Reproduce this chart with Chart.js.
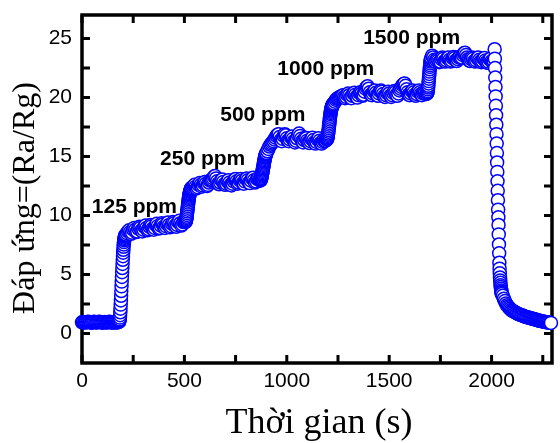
<!DOCTYPE html>
<html>
<head>
<meta charset="utf-8">
<script src="https://cdn.jsdelivr.net/npm/chart.js@4"></script>
<style>
  html, body { margin: 0; padding: 0; background: #fff; }
  canvas { display: block; }
</style>
</head>
<body>
<canvas id="responseChart" width="560" height="443"></canvas>
<script>
// Ra/Rg response vs time, one array per stage of the run

// 0–180 s in air, every 5 s
const baseline = [
  0.95, 0.98, 0.96, 0.93, 0.95, 0.97, 1.00, 0.98, 0.95, 0.92,
  0.94, 0.97, 0.99, 0.96, 0.93, 0.95, 0.98, 1.00, 0.97, 0.94,
  0.92, 0.95, 0.98, 0.96, 0.93, 0.95, 0.97, 0.99, 0.96, 0.94,
  0.93, 0.95, 0.97, 0.95, 0.93, 0.96, 0.98
];
// 181–212 s, every 1 s
const rise125 = [
  1.00, 1.05, 1.10, 1.20, 1.35, 1.55, 1.80, 2.10, 2.45, 2.80,
  3.20, 3.60, 4.00, 4.40, 4.80, 5.20, 5.55, 5.90, 6.25, 6.55,
  6.85, 7.10, 7.35, 7.55, 7.75, 7.90, 8.00, 8.10, 8.20, 8.25,
  8.30, 8.35
];
// 215–505 s, every 5 s
const plateau125 = [
  8.40, 8.50, 8.65, 8.75, 8.60, 8.45, 8.55, 8.80, 8.95, 8.80,
  8.60, 8.65, 8.90, 9.05, 8.95, 8.75, 8.65, 8.80, 9.05, 9.15,
  8.95, 8.75, 8.85, 9.05, 9.20, 9.10, 8.90, 8.80, 8.95, 9.20,
  9.30, 9.10, 8.90, 8.95, 9.15, 9.35, 9.25, 9.05, 8.95, 9.10,
  9.30, 9.40, 9.20, 9.00, 9.10, 9.30, 9.45, 9.35, 9.15, 9.05,
  9.20, 9.45, 9.55, 9.35, 9.15, 9.25, 9.45, 9.50, 9.45
];
// 506–535 s, every 1 s
const rise250 = [
  9.50, 9.55, 9.60, 9.70, 9.80, 9.90, 10.05, 10.20, 10.35, 10.50,
  10.65, 10.80, 10.95, 11.10, 11.25, 11.40, 11.50, 11.60, 11.70, 11.80,
  11.90, 12.00, 12.05, 12.10, 12.15, 12.20, 12.25, 12.30, 12.30, 12.35
];
// 540–870 s, every 5 s
const plateau250 = [
  12.40, 12.50, 12.60, 12.45, 12.30, 12.40, 12.60, 12.75, 12.60, 12.45,
  12.55, 12.75, 12.85, 12.70, 12.50, 12.60, 12.80, 12.95, 13.00, 13.05,
  13.15, 13.30, 13.35, 13.15, 12.90, 12.70, 12.65, 12.80, 13.00, 13.05,
  12.85, 12.65, 12.60, 12.70, 12.90, 13.00, 12.80, 12.60, 12.55, 12.70,
  12.90, 13.05, 13.10, 12.90, 12.70, 12.80, 13.00, 13.10, 12.95, 12.75,
  12.70, 12.90, 13.10, 13.15, 13.00, 12.80, 12.75, 12.95, 13.15, 13.20,
  13.00, 12.80, 12.90, 13.10, 13.15, 13.05, 12.95
];
// 871–900 s, every 1 s
const rise500 = [
  13.00, 13.00, 13.05, 13.10, 13.15, 13.20, 13.30, 13.40, 13.50, 13.60,
  13.70, 13.80, 13.90, 14.00, 14.10, 14.20, 14.30, 14.40, 14.50, 14.60,
  14.70, 14.80, 14.90, 14.95, 15.00, 15.10, 15.15, 15.20, 15.25, 15.30
];
// 905–1195 s, every 5 s
const plateau500 = [
  15.45, 15.65, 15.85, 16.00, 16.10, 16.20, 16.30, 16.45, 16.60, 16.75,
  16.85, 16.90, 16.65, 16.40, 16.30, 16.50, 16.75, 16.90, 16.80, 16.55,
  16.35, 16.30, 16.45, 16.65, 16.70, 16.50, 16.30, 16.20, 16.35, 16.55,
  16.80, 16.95, 16.75, 16.50, 16.30, 16.20, 16.40, 16.60, 16.55, 16.35,
  16.20, 16.15, 16.30, 16.50, 16.60, 16.40, 16.20, 16.10, 16.25, 16.45,
  16.55, 16.35, 16.15, 16.10, 16.25, 16.40, 16.30, 16.35, 16.45
];
// 1196–1225 s, every 1 s
const rise1000 = [
  16.45, 16.50, 16.55, 16.65, 16.75, 16.85, 16.95, 17.10, 17.25, 17.40,
  17.55, 17.70, 17.85, 18.00, 18.15, 18.30, 18.45, 18.60, 18.70, 18.80,
  18.90, 19.00, 19.10, 19.15, 19.20, 19.25, 19.30, 19.35, 19.40, 19.45
];
// 1230–1685 s, every 5 s
const plateau1000 = [
  19.50, 19.65, 19.80, 19.90, 19.95, 20.00, 20.05, 20.10, 20.15, 20.20,
  20.05, 19.95, 20.05, 20.25, 20.35, 20.20, 20.00, 19.95, 20.15, 20.35,
  20.40, 20.25, 20.05, 20.00, 20.20, 20.40, 20.45, 20.35, 20.15, 20.25,
  20.50, 20.75, 20.90, 20.95, 20.75, 20.45, 20.25, 20.20, 20.35, 20.55,
  20.60, 20.40, 20.20, 20.15, 20.35, 20.55, 20.60, 20.50, 20.30, 20.10,
  20.05, 20.20, 20.40, 20.50, 20.35, 20.15, 20.05, 20.20, 20.40, 20.55,
  20.45, 20.25, 20.15, 20.35, 20.60, 20.75, 20.90, 21.05, 21.15, 21.20,
  21.00, 20.70, 20.45, 20.25, 20.20, 20.35, 20.55, 20.60, 20.45, 20.25,
  20.15, 20.30, 20.50, 20.60, 20.45, 20.30, 20.20, 20.35, 20.45, 20.40,
  20.30, 20.35
];
// 1686–1705 s, every 1 s
const rise1500 = [
  20.40, 20.45, 20.55, 20.70, 20.85, 21.00, 21.20, 21.40, 21.60, 21.80,
  22.00, 22.20, 22.40, 22.60, 22.75, 22.90, 23.05, 23.15, 23.25, 23.35
];
// 1710–2010 s, every 5 s
const plateau1500 = [
  23.55, 23.40, 23.20, 23.05, 23.15, 23.25, 23.15, 23.00, 23.05, 23.25,
  23.40, 23.30, 23.10, 23.05, 23.15, 23.35, 23.40, 23.20, 23.05, 23.15,
  23.35, 23.45, 23.35, 23.15, 23.10, 23.25, 23.40, 23.45, 23.35, 23.40,
  23.60, 23.75, 23.80, 23.60, 23.40, 23.25, 23.15, 23.10, 23.25, 23.40,
  23.30, 23.10, 23.05, 23.15, 23.35, 23.40, 23.20, 23.05, 23.00, 23.10,
  23.30, 23.35, 23.15, 23.00, 22.95, 23.05, 23.25, 23.30, 23.10, 23.00,
  23.10
];
// gas off: 2015–2050 s, every 1 s
const recovery = [
  24.10, 23.30, 22.50, 21.70, 20.90, 20.10, 19.30, 18.50, 17.70, 16.90,
  16.10, 15.30, 14.50, 13.70, 12.90, 12.10, 11.30, 10.50, 9.85, 9.20,
  8.40, 7.55, 6.80, 6.00, 5.50, 5.10, 4.75, 4.50, 4.30, 4.10,
  3.95, 3.80, 3.65, 3.55, 3.45, 3.35
];
// 2055–2290 s, every 5 s
const tail = [
  3.20, 2.95, 2.75, 2.55, 2.40, 2.30, 2.20, 2.10, 2.00, 1.95,
  1.90, 1.85, 1.80, 1.75, 1.70, 1.65, 1.62, 1.58, 1.55, 1.52,
  1.50, 1.45, 1.42, 1.40, 1.37, 1.35, 1.32, 1.30, 1.28, 1.25,
  1.22, 1.20, 1.18, 1.15, 1.13, 1.10, 1.08, 1.06, 1.04, 1.02,
  1.00, 0.98, 0.97, 0.95, 0.94, 0.92, 0.91, 0.90
];

// [first time (s), sampling interval (s), values]
const segments = [
  [0, 5, baseline], [181, 1, rise125], [215, 5, plateau125],
  [506, 1, rise250], [540, 5, plateau250], [871, 1, rise500],
  [905, 5, plateau500], [1196, 1, rise1000], [1230, 5, plateau1000],
  [1686, 1, rise1500], [1710, 5, plateau1500], [2015, 1, recovery],
  [2055, 5, tail]
];

const xTickLabels = [0, 500, 1000, 1500, 2000];
const xMinorTicks = [0, 250, 500, 750, 1000, 1250, 1500, 1750, 2000, 2250];
const yTickLabels = [0, 5, 10, 15, 20, 25];
const yMinorTicks = [0, 2.5, 5, 7.5, 10, 12.5, 15, 17.5, 20, 22.5, 25];

const stepLabels = ["125 ppm", "250 ppm", "500 ppm", "1000 ppm", "1500 ppm"];

const points = [];
segments.forEach(([start, dt, vals]) => {
  vals.forEach((v, i) => points.push({ x: start + i * dt, y: v }));
});

// where each concentration label sits (left edge, baseline), in data units
const labelAt = [[48, 10.2], [381, 14.3], [675, 18.0], [954, 21.95], [1373, 24.5]];

const sans = '"Liberation Sans", Arial, sans-serif';
const serif = '"Liberation Serif", "Times New Roman", serif';

// box round the plot with inward ticks on all four sides
const framePlugin = {
  id: 'frame',
  beforeDatasetsDraw(chart) {
    const { ctx, chartArea: a, scales: { x, y } } = chart;
    const len = 8;
    ctx.save();
    ctx.strokeStyle = '#000';
    ctx.lineWidth = 3;
    ctx.beginPath();
    xMinorTicks.forEach(v => {
      const px = x.getPixelForValue(v);
      ctx.moveTo(px, a.bottom); ctx.lineTo(px, a.bottom - len);
      ctx.moveTo(px, a.top); ctx.lineTo(px, a.top + len);
    });
    yMinorTicks.forEach(v => {
      const py = y.getPixelForValue(v);
      ctx.moveTo(a.left, py); ctx.lineTo(a.left + len, py);
      ctx.moveTo(a.right, py); ctx.lineTo(a.right - len, py);
    });
    ctx.stroke();
    ctx.lineWidth = 3.5;
    ctx.strokeRect(a.left, a.top, a.right - a.left, a.bottom - a.top);
    ctx.restore();
  }
};

const textPlugin = {
  id: 'texts',
  afterDatasetsDraw(chart) {
    const { ctx, scales: { x, y } } = chart;
    ctx.save();
    ctx.fillStyle = '#000';
    ctx.font = 'bold 21px ' + sans;
    ctx.textAlign = 'left';
    ctx.textBaseline = 'alphabetic';
    stepLabels.forEach((txt, i) => {
      ctx.fillText(txt, x.getPixelForValue(labelAt[i][0]), y.getPixelForValue(labelAt[i][1]));
    });

    // axis titles
    ctx.textAlign = 'center';
    ctx.font = '36px ' + serif;
    ctx.fillText('Thời gian (s)', 319, 433);
    ctx.font = '32px ' + serif;
    ctx.translate(34, 198);
    ctx.rotate(-Math.PI / 2);
    ctx.fillText('Đáp ứng=(Ra/Rg)', 0, 0);
    ctx.restore();
  }
};

new Chart(document.getElementById('responseChart'), {
  type: 'scatter',
  data: {
    datasets: [{
      data: points,
      pointStyle: 'circle',
      pointRadius: 6.5,
      pointHoverRadius: 6.5,
      pointBorderWidth: 1.5,
      pointBorderColor: '#0000ff',
      pointBackgroundColor: '#ffffff',
      clip: false
    }]
  },
  options: {
    responsive: false,
    animation: false,
    events: [],
    layout: { padding: { top: 15, right: 2, left: 0, bottom: 0 } },
    plugins: { legend: { display: false }, tooltip: { enabled: false } },
    scales: {
      x: {
        type: 'linear',
        min: 0,
        max: 2295,
        grid: { display: false, drawTicks: false },
        border: { display: false },
        ticks: { color: '#000', font: { family: sans, size: 21 }, padding: 6, callback: v => String(v) },
        afterBuildTicks: s => { s.ticks = xTickLabels.map(v => ({ value: v })); },
        afterFit: s => { s.height = 80; s.paddingLeft = 0; s.paddingRight = 0; }
      },
      y: {
        type: 'linear',
        min: -2.5,
        max: 27,
        grid: { display: false, drawTicks: false },
        border: { display: false },
        ticks: { color: '#000', font: { family: sans, size: 21 }, padding: 10, callback: v => String(v) },
        afterBuildTicks: s => { s.ticks = yTickLabels.map(v => ({ value: v })); },
        afterFit: s => { s.width = 82; s.paddingTop = 0; s.paddingBottom = 0; }
      }
    }
  },
  plugins: [framePlugin, textPlugin]
});
</script>
</body>
</html>
